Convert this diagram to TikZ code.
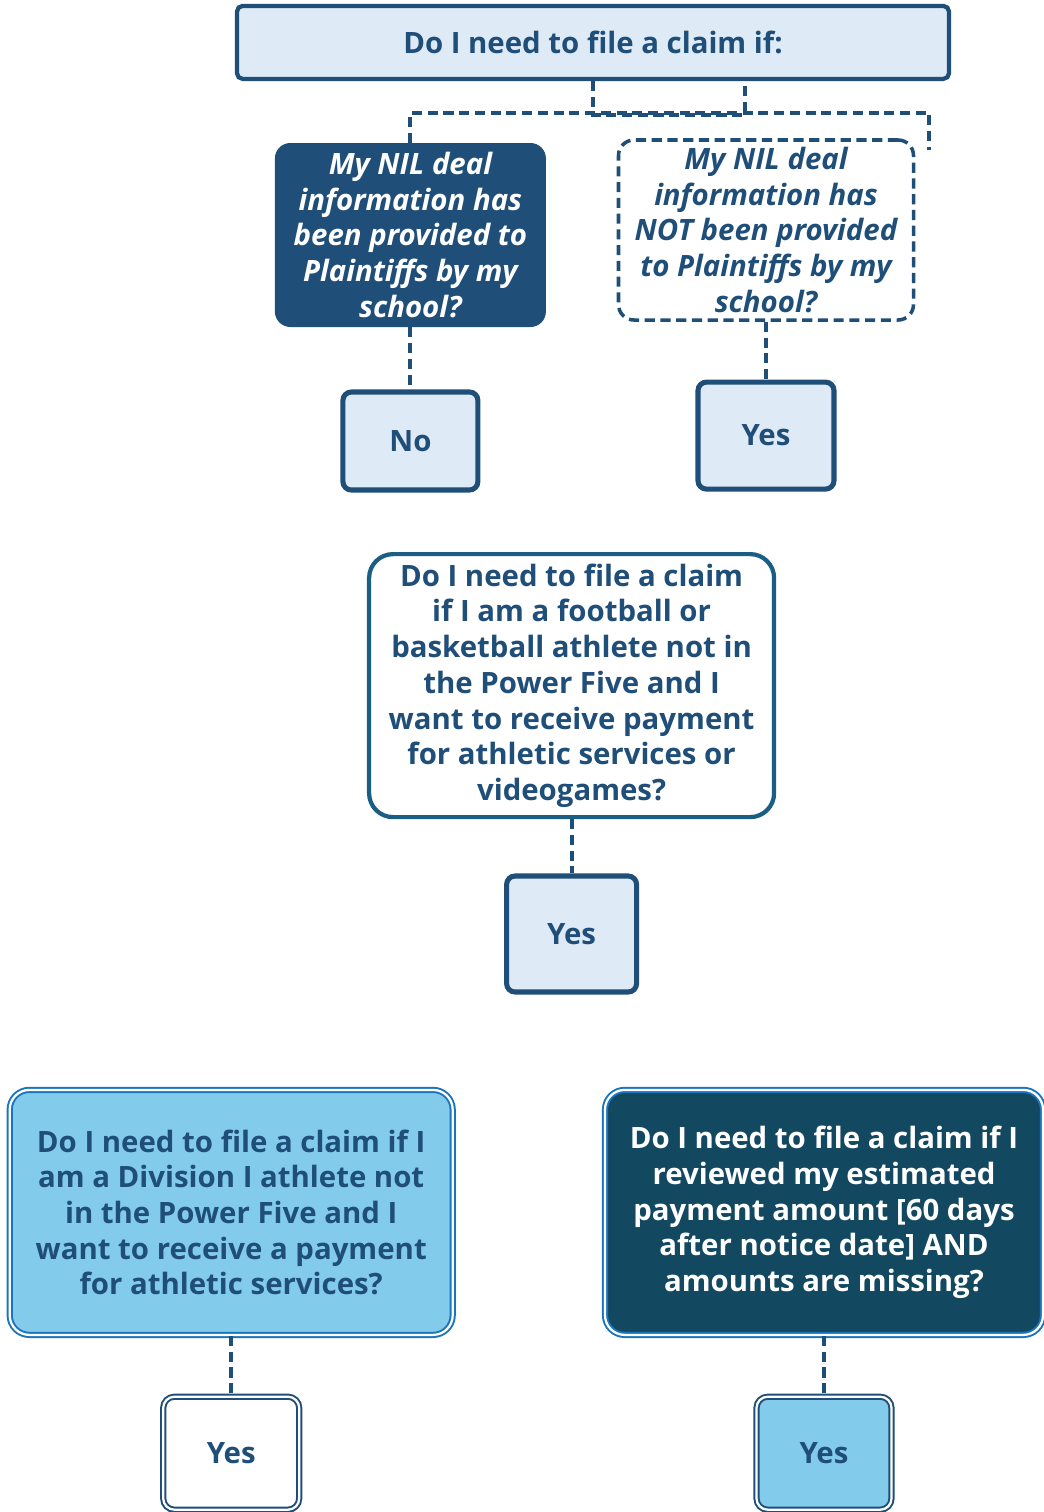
\documentclass[tikz,border=0pt]{standalone}
\usepackage{fontspec}
\setmainfont{Open Sans}
\usetikzlibrary{positioning}
\definecolor{nilnavy}{RGB}{31,78,121}
\definecolor{nilpale}{RGB}{222,234,246}
\definecolor{nilteal}{RGB}{26,94,132}
\definecolor{nilsky}{RGB}{131,203,235}
\definecolor{nilbright}{RGB}{27,117,188}
\definecolor{nildeep}{RGB}{19,72,97}
\begin{document}
\begin{tikzpicture}[x=1cm,y=-1cm,
  every node/.style={font=\fontsize{20.9}{25.4}\selectfont\bfseries, align=center, inner sep=0pt, text=nilnavy},
  link/.style={draw=nilnavy, line width=2.8pt, dash pattern=on 7.2pt off 4pt},
  answer/.style={draw=nilnavy, fill=nilpale, line width=3.6pt, rounded corners=6pt},
  dbl/.style={double=white, double distance=1.6pt, line width=1.4pt, rounded corners=14pt}]
\useasboundingbox (0,0) rectangle (26.1,37.8);
% Heading
\node[draw=nilnavy, fill=nilpale, line width=3pt, rounded corners=4pt,
  minimum width=17.8cm, minimum height=1.825cm] (top) at (14.825,1.06) {Do I need to file a claim if:};
% NIL deal questions
\node[fill=nilnavy, rounded corners=11pt, text=white, font=\fontsize{20.9}{25.4}\selectfont\bfseries\itshape,
  minimum width=6.775cm, minimum height=4.6cm] (nilyes) at (10.26,5.875)
  {My NIL deal\\information has\\been provided to\\Plaintiffs by my\\school?};
\node[draw=nilnavy, fill=white, line width=2.5pt, dash pattern=on 7.2pt off 4pt, rounded corners=11pt,
  font=\fontsize{20.9}{25.4}\selectfont\bfseries\itshape,
  minimum width=7.375cm, minimum height=4.5cm] (nilnot) at (19.15,5.75)
  {My NIL deal\\information has\\NOT been provided\\to Plaintiffs by my\\school?};
\coordinate (busend) at (23.225,3.75);
\draw[link] (top.south) -- ++(0,0.85) -| ([xshift=3.8cm]top.south);
\draw[link] (nilyes.north) -- ++(0,-0.75) -| (busend);
% Answers
\node[answer, minimum width=3.375cm, minimum height=2.45cm] (no) at (10.26,11.025) {No};
\node[answer, minimum width=3.4cm, minimum height=2.675cm] (yesnot) at (19.15,10.89) {Yes};
\draw[link] (nilyes.south) -- (no.north);
\draw[link] (nilnot.south) -- (yesnot.north);
% Football / basketball
\node[draw=nilteal, fill=white, line width=3pt, rounded corners=17pt,
  minimum width=10.125cm, minimum height=6.575cm] (football) at (14.29,17.14)
  {Do I need to file a claim\\if I am a football or\\basketball athlete not in\\the Power Five and I\\want to receive payment\\for athletic services or\\videogames?};
\node[answer, minimum width=3.25cm, minimum height=2.9cm] (yesfoot) at (14.29,23.35) {Yes};
\draw[link] (football.south) -- (yesfoot.north);
% Division I
\node[dbl, draw=nilbright, fill=nilsky, minimum width=11.075cm, minimum height=6.125cm] (divone) at (5.78,30.31)
  {Do I need to file a claim if I\\am a Division I athlete not\\in the Power Five and I\\want to receive a payment\\for athletic services?};
\node[dbl, draw=nilnavy, fill=white, rounded corners=8pt, minimum width=3.4cm, minimum height=2.825cm] (yesdiv) at (5.78,36.33) {Yes};
\draw[link] (divone.south) -- (yesdiv.north);
% Estimated payment
\node[dbl, draw=nilbright, fill=nildeep, text=white, minimum width=10.95cm, minimum height=6.125cm] (review) at (20.6,30.31)
  {Do I need to file a claim if I\\reviewed my estimated\\payment amount [60 days\\after notice date] AND\\amounts are missing?};
\node[dbl, draw=nilnavy, fill=nilsky, rounded corners=8pt, minimum width=3.375cm, minimum height=2.825cm] (yesrev) at (20.6,36.33) {Yes};
\draw[link] (review.south) -- (yesrev.north);
\end{tikzpicture}
\end{document}
